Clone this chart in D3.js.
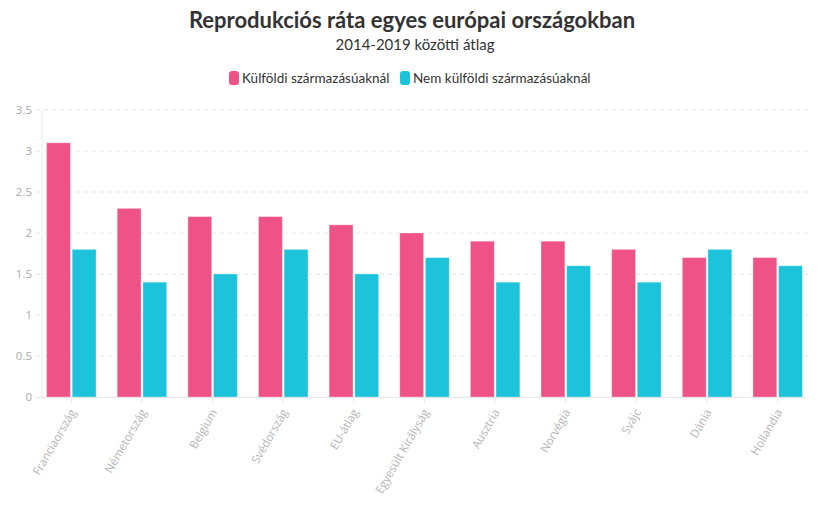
<!DOCTYPE html>
<html><head><meta charset="utf-8">
<script src="https://cdn.jsdelivr.net/npm/d3@7"></script>
<style>body{margin:0;background:#fff}</style>
</head><body>
<svg id="c" width="824" height="516"></svg>
<script>
const categories = ["Franciaország","Németország","Belgium","Svédország","EU-átlag","Egyesült Királyság","Ausztria","Norvégia","Svájc","Dánia","Hollandia"];
const foreignBorn = [3.1,2.3,2.2,2.2,2.1,2.0,1.9,1.9,1.8,1.7,1.7];
const nativeBorn = [1.8,1.4,1.5,1.8,1.5,1.7,1.4,1.6,1.4,1.8,1.6];
const seriesNames = ["Külföldi származásúaknál","Nem külföldi származásúaknál"];
const yTicks = [0,0.5,1,1.5,2,2.5,3,3.5];
const colors = ["#ee5286","#1cc3da"];

const svg = d3.select("#c");
const x = d3.scaleBand().domain(categories).range([36,813]).paddingInner(0.30).paddingOuter(0.15);
const xs = d3.scaleBand().domain([0,1]).range([0,x.bandwidth()]).paddingInner(0.07);
const y = d3.scaleLinear().domain([0,3.5]).range([397,110]);

// title
svg.append("text").attr("x",412).attr("y",28).attr("text-anchor","middle")
  .attr("font-family","Lato, 'Noto Sans', sans-serif").attr("font-weight","bold")
  .attr("font-size",22).attr("fill","#333").text("Reprodukciós ráta egyes európai országokban");
svg.append("text").attr("x",415).attr("y",50).attr("text-anchor","middle")
  .attr("font-family","Lato, 'Noto Sans', sans-serif")
  .attr("font-size",15).attr("fill","#333").text("2014-2019 közötti átlag");

// legend
const leg = [{x:229,name:seriesNames[0],c:colors[0]},{x:400,name:seriesNames[1],c:colors[1]}];
leg.forEach(l=>{
  svg.append("rect").attr("x",l.x).attr("y",71).attr("width",10).attr("height",14).attr("rx",3).attr("fill",l.c);
  svg.append("text").attr("x",l.x+13).attr("y",83).attr("font-family","Lato, 'Noto Sans', sans-serif")
    .attr("font-size",13.5).attr("fill","#333").text(l.name);
});

// grid
const g = svg.append("g");
g.selectAll("line.grid").data(yTicks.filter(d=>d>0)).join("line")
  .attr("x1",36).attr("x2",808).attr("y1",d=>y(d)).attr("y2",d=>y(d))
  .attr("stroke","#e6e6e6").attr("stroke-dasharray","4,4");
// y axis line
g.append("line").attr("x1",42).attr("x2",42).attr("y1",110).attr("y2",397).attr("stroke","#e6e6e6");
// y labels
g.selectAll("text.yl").data(yTicks).join("text")
  .attr("x",32).attr("y",d=>y(d)+4).attr("text-anchor","end")
  .attr("font-family","'Open Sans', sans-serif").attr("font-size",11.5).attr("fill","#aaa")
  .text(d=>d);

// bars
const grp = g.selectAll("g.grp").data(categories).join("g").attr("transform",d=>`translate(${x(d)},0)`);
grp.selectAll("rect").data((d,i)=>[foreignBorn[i],nativeBorn[i]].map((v,k)=>({v,k}))).join("rect")
  .attr("x",d=>xs(d.k)).attr("width",xs.bandwidth())
  .attr("y",d=>y(d.v)).attr("height",d=>y(0)-y(d.v))
  .attr("fill",d=>colors[d.k]).attr("stroke","rgba(255,255,255,0.3)").attr("stroke-width",1);

// x axis baseline
g.append("line").attr("x1",36).attr("x2",806).attr("y1",397.5).attr("y2",397.5).attr("stroke","#e6e6e6");
g.selectAll("line.xt").data(categories).join("line")
  .attr("x1",d=>x(d)+x.bandwidth()/2).attr("x2",d=>x(d)+x.bandwidth()/2)
  .attr("y1",397).attr("y2",403).attr("stroke","#e6e6e6");
g.selectAll("text.xl").data(categories).join("text")
  .attr("transform",d=>`translate(${x(d)+x.bandwidth()/2+5},${412}) rotate(-60)`)
  .attr("text-anchor","end").attr("font-family","'Open Sans', sans-serif")
  .attr("font-size",11.5).attr("fill","#b5b5b5").text(d=>d);
</script>
</body></html>
